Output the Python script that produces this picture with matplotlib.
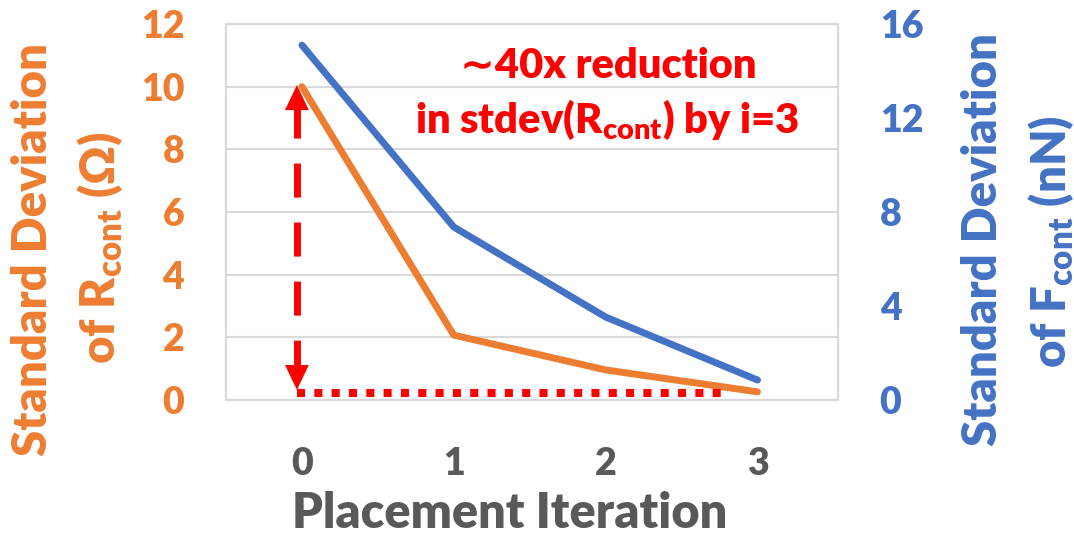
import matplotlib
matplotlib.use("Agg")
import matplotlib.pyplot as plt

# --- data ---
iterations = [0, 1, 2, 3]
std_r = [10.0, 2.07, 0.96, 0.26]      # Ohm, left axis
std_f = [15.1, 7.36, 3.53, 0.85]      # nN, right axis
left_ticks = [0, 2, 4, 6, 8, 10, 12]
right_ticks = [0, 4, 8, 12, 16]

ORANGE = "#ED7D31"
BLUE = "#4472C4"
GRAY = "#595959"
GRID = "#D9D9D9"
RED = "#FF0000"

plt.rcParams['font.family'] = ['Lato', 'DejaVu Sans']
plt.rcParams['font.weight'] = 'heavy'
plt.rcParams['mathtext.fontset'] = 'custom'
plt.rcParams['mathtext.rm'] = 'Lato:heavy'
plt.rcParams['mathtext.it'] = 'Lato:heavy'
plt.rcParams['mathtext.bf'] = 'Lato:heavy'

W, H = 1074, 535
fig = plt.figure(figsize=(W / 100, H / 100), dpi=100)
ax = fig.add_axes([226 / W, 1 - 400 / H, (838 - 226) / W, (400 - 24) / H])
ax2 = ax.twinx()

ax.set_xlim(-0.5, 3.53)
ax.set_ylim(0, 12)
ax2.set_ylim(0, 16)

ax.set_yticks(left_ticks)
ax2.set_yticks(right_ticks)
ax.set_xticks(iterations)
ax.grid(axis='y', color=GRID, lw=1.5)
ax.set_axisbelow(True)

for a in (ax, ax2):
    for s in a.spines.values():
        s.set_color(GRID)
        s.set_linewidth(1.5)

ax.tick_params(axis='y', length=0, pad=30, labelsize=27, labelcolor=ORANGE)
ax2.tick_params(axis='y', length=0, pad=30, labelsize=27, labelcolor=BLUE)
ax.tick_params(axis='x', length=0, pad=34, labelsize=27, labelcolor=GRAY)

ax.plot(iterations, std_r, color=ORANGE, lw=5, solid_capstyle='round', zorder=3)
ax2.plot(iterations, std_f, color=BLUE, lw=5, solid_capstyle='round', zorder=3)

# red double arrow (dashed) and dotted baseline
xa = -0.033
ax.plot([xa, xa], [9.45, 0.96], color=RED, lw=5, ls=(0, (4.9, 3.6)), zorder=4)
for tip, base in [(10.05, 9.2), (0.32, 1.17)]:
    ax.annotate('', xy=(xa, tip), xytext=(xa, base),
                arrowprops=dict(arrowstyle='-|>,head_length=1.8,head_width=0.86',
                                mutation_scale=10, color=RED, lw=0,
                                shrinkA=0, shrinkB=0), zorder=5)
ax.plot([xa, 2.77], [0.22, 0.22], color=RED, lw=5.8, ls=(0, (1, 1.15)), zorder=4)

fig.text(608 / W, 1 - 78 / H, "∼40x reduction", color=RED, fontsize=30,
         ha='center', va='baseline')
fig.text(607 / W, 1 - 133 / H, r"in stdev(R$_{\mathrm{cont}}$) by i=3", color=RED,
         fontsize=30, ha='center', va='baseline')

# axis titles
fig.text(510 / W, 1 - 528 / H, "Placement Iteration", color=GRAY, fontsize=35,
         ha='center', va='baseline')
fig.text(33 / W, 1 - 249 / H, "Standard Deviation", color=ORANGE, fontsize=34,
         rotation=90, ha='center', va='center')
fig.text(100 / W, 1 - 248 / H, r"of R$_{\mathrm{cont}}$ (Ω)", color=ORANGE, fontsize=34,
         rotation=90, ha='center', va='center')
fig.text(983 / W, 1 - 240 / H, "Standard Deviation", color=BLUE, fontsize=34,
         rotation=90, ha='center', va='center')
fig.text(1051 / W, 1 - 242 / H, r"of F$_{\mathrm{cont}}$ (nN)", color=BLUE, fontsize=34,
         rotation=90, ha='center', va='center')

fig.savefig("out.png", dpi=100)
